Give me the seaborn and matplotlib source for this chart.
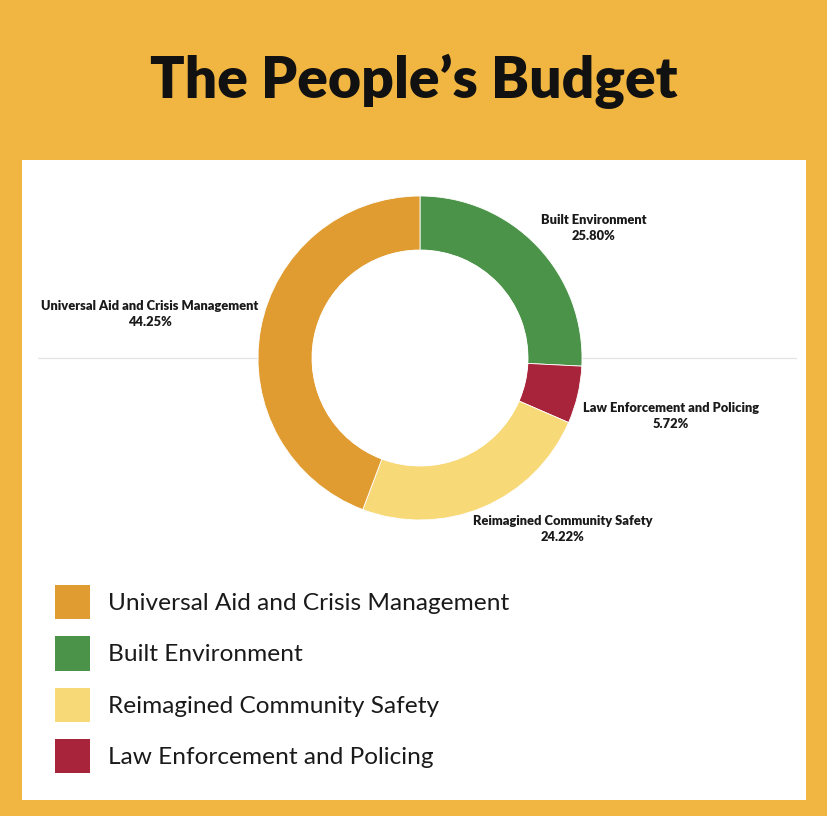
import matplotlib
matplotlib.use("Agg")
import matplotlib.pyplot as plt
import seaborn as sns
from matplotlib.patches import Patch, Rectangle, Circle

# Data (clockwise from the top of the ring)
categories = ["Built Environment", "Law Enforcement and Policing",
              "Reimagined Community Safety", "Universal Aid and Crisis Management"]
shares = [25.80, 5.72, 24.22, 44.25]
colors = ["#4b9349", "#a8243b", "#f7d977", "#e19c31"]

# legend order
legend_order = ["Universal Aid and Crisis Management", "Built Environment",
                "Reimagined Community Safety", "Law Enforcement and Policing"]

sns.set_theme(style="white")
plt.rcParams['font.family'] = ['Lato', 'DejaVu Sans']

bg = "#f1b641"
fig = plt.figure(figsize=(8.28, 8.16), dpi=100, facecolor=bg)

# white panel
fig.patches.append(Rectangle((22 / 828, 16 / 816), 784 / 828, 640 / 816,
                             transform=fig.transFigure, facecolor="white",
                             edgecolor="none", zorder=-5))

fig.text(0.5, 1 - 81 / 816, "The People\u2019s Budget", ha="center", va="center",
         fontsize=41, fontweight="heavy", color="#111111")

# axes in pixel coordinates
ax = fig.add_axes([0, 0, 1, 1])
ax.set_zorder(2)
ax.axis("off")
ax.patch.set_alpha(0)

cx, cy, r_out = 420, 816 - 358, 162
ax.plot([38, 796], [cy, cy], color="#e4e4e4", lw=0.9, zorder=0)

wedges, _ = ax.pie(shares, colors=colors, startangle=90, counterclock=False,
                   center=(cx, cy), radius=r_out,
                   wedgeprops=dict(width=r_out / 3, edgecolor="white", linewidth=0.6))
ax.add_patch(Circle((cx, cy), r_out * 2 / 3, facecolor="white", edgecolor="none", zorder=1))
ax.set_xlim(0, 828)
ax.set_ylim(0, 816)
ax.axis("off")

# slice labels
label_pos = [(594, 816 - 228), (671, 816 - 416), (563, 816 - 529), (150, 816 - 314)]
for name, val, (lx, ly) in zip(categories, shares, label_pos):
    ax.text(lx, ly, f"{name}\n{val:.2f}%", ha="center", va="center",
            fontsize=9.3, fontweight="heavy", color="#1a1a1a", linespacing=1.4)

handles = [Patch(facecolor=colors[categories.index(n)], edgecolor="none") for n in legend_order]
leg = fig.legend(handles, legend_order, loc="upper left",
                 bbox_to_anchor=(33 / 828, 1 - 563 / 816), frameon=False,
                 fontsize=17.6, handlelength=1.43, handleheight=1.79,
                 handletextpad=0.74, labelspacing=0.69, labelcolor="#1a1a1a")
leg.set_zorder(3)

fig.savefig("out.png", dpi=100, facecolor=bg)
